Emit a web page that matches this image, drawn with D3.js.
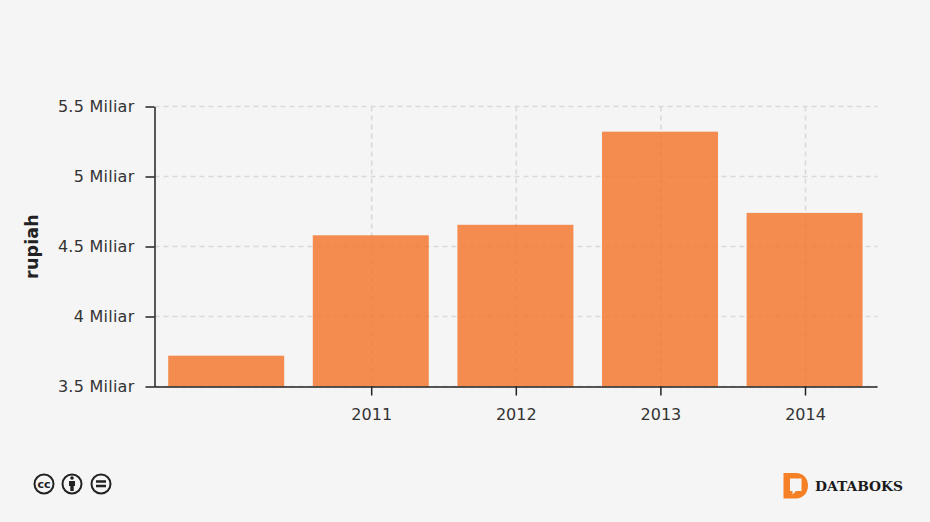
<!DOCTYPE html>
<html>
  <head>
    <meta charset="utf-8">
    <script src="https://d3js.org/d3.v7.js"></script>
    <style>
      html, body { margin: 0; padding: 0; background: #f5f5f5; }
      svg { display: block; }
      text { font-family: "DejaVu Sans", sans-serif; }
    </style>
  </head>
  <body>
    <svg id="myPlot" width="930" height="522"></svg>
    <script>
      // Data
      const years = ["2010", "2011", "2012", "2013", "2014"];
      const values = [3.72, 4.58, 4.655, 5.32, 4.74];
      const yTicks = [3.5, 4, 4.5, 5, 5.5];
      const yTickLabels = ["3.5 Miliar", "4 Miliar", "4.5 Miliar", "5 Miliar", "5.5 Miliar"];
      const xTicks = ["2011", "2012", "2013", "2014"];

      // Dimensions
      const plotLeft = 154.5, plotRight = 877.5, plotTop = 106.5, plotBottom = 386.5;
      const barWidth = 116;

      const svg = d3.select("#myPlot");

      const x = d3.scalePoint().domain(years).range([226.6, 805]);
      const y = d3.scaleLinear().domain([3.5, 5.5]).range([plotBottom, plotTop]);

      // Grid, sits under the translucent bars
      const gridColor = "#d9d9d9";
      svg.append("g")
        .selectAll("line")
        .data(yTicks)
        .enter()
        .append("line")
        .attr("x1", plotLeft)
        .attr("x2", plotRight)
        .attr("y1", d => y(d))
        .attr("y2", d => y(d))
        .style("stroke", gridColor)
        .style("stroke-width", 1.6)
        .style("stroke-dasharray", "5 4");

      svg.append("g")
        .selectAll("line")
        .data(xTicks)
        .enter()
        .append("line")
        .attr("x1", d => x(d) + 0.5)
        .attr("x2", d => x(d) + 0.5)
        .attr("y1", plotTop)
        .attr("y2", plotBottom)
        .style("stroke", gridColor)
        .style("stroke-width", 1.6)
        .style("stroke-dasharray", "5 4");

      // Bars
      svg.append("g")
        .selectAll("rect")
        .data(years)
        .enter()
        .append("rect")
        .attr("x", d => x(d) - barWidth / 2 - 0.4)
        .attr("width", barWidth)
        .attr("y", (d, i) => y(values[i]))
        .attr("height", (d, i) => plotBottom - y(values[i]))
        .style("fill", "#f57226")
        .style("fill-opacity", 0.8);

      // Y Axis
      const yAxis = d3.axisLeft(y)
        .tickValues(yTicks)
        .tickFormat((d, i) => yTickLabels[i])
        .tickSize(9)
        .tickPadding(11)
        .tickSizeOuter(0);
      svg.append("g")
        .attr("transform", "translate(" + plotLeft + ",0)")
        .call(yAxis);

      // X Axis
      const xAxis = d3.axisBottom(x)
        .tickValues(xTicks)
        .tickSize(9)
        .tickPadding(13)
        .tickSizeOuter(0);
      const xG = svg.append("g")
        .attr("transform", "translate(0," + plotBottom + ")")
        .call(xAxis);
      xG.select(".domain").attr("d", "M" + plotLeft + ",0.5H" + plotRight);

      svg.selectAll(".tick text")
        .style("font-size", "16px")
        .style("font-family", '"DejaVu Sans", sans-serif')
        .style("fill", "#333");
      svg.selectAll(".domain, .tick line").style("stroke", "#222").style("stroke-width", 1.5);
      svg.selectAll(".tick text").filter(function () { return this.textContent.indexOf("Miliar") >= 0; })
        .style("letter-spacing", "0.25px");

      // Axis title
      svg.append("text")
        .attr("transform", "translate(37.5,246.5) rotate(-90)")
        .attr("text-anchor", "middle")
        .style("font-size", "17.5px")
        .style("letter-spacing", "0.15px")
        .style("font-weight", "bold")
        .style("fill", "#222")
        .text("rupiah");

      // Licence badges
      const badges = svg.append("g").style("stroke", "#222").style("fill", "none");
      [44, 72, 101].forEach(cx => {
        badges.append("circle").attr("cx", cx).attr("cy", 484).attr("r", 9.5).style("stroke-width", 2);
      });
      svg.append("text").attr("x", 44).attr("y", 488).attr("text-anchor", "middle")
        .style("font-size", "11px").style("font-weight", "bold").style("fill", "#222").text("cc");
      badges.append("circle").attr("cx", 72).attr("cy", 478).attr("r", 1.8).style("fill", "#222").style("stroke", "none");
      badges.append("path").attr("d", "M69,481h6v5h-1.3v5h-3.4v-5h-1.3z").style("fill", "#222").style("stroke", "none");
      badges.append("path").attr("d", "M96,481.5h10M96,486h10").style("stroke-width", 2.4);

      // Logo
      svg.append("path")
        .attr("d", "M783.5,473h12.5c7,0,12,5,12,12.5s-5,13-12,13h-12.5v-4h0v-21.5zM790,478.5v12.5h2.5v3.5l3.5,-3.5h5.5v-12.5z")
        .attr("fill-rule", "evenodd")
        .style("fill", "#f58026");
      svg.append("text").attr("x", 815).attr("y", 491)
        .style("font-family", '"DejaVu Serif", serif')
        .style("font-size", "13.8px")
        .style("font-weight", "bold")
        .style("fill", "#1a1a1a")
        .text("DATABOKS");
    </script>
  </body>
</html>
